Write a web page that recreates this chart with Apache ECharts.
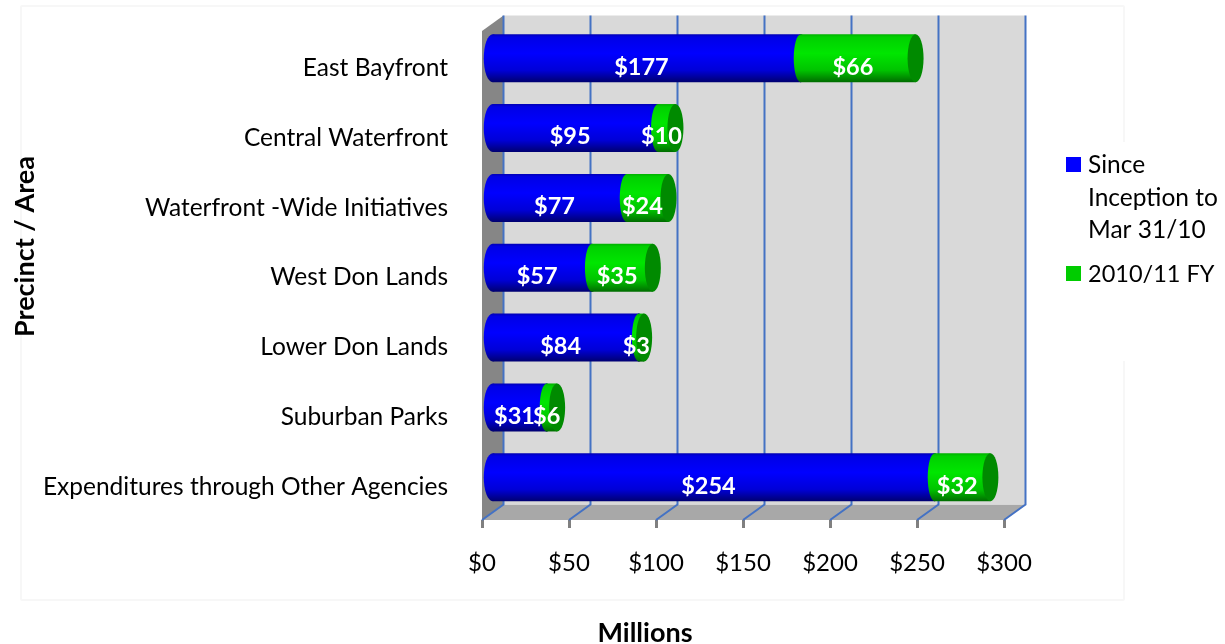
<!DOCTYPE html>
<html>
<head>
<meta charset="utf-8">
<style>html,body{margin:0;padding:0;background:#fff}#main{width:1225px;height:644px}</style>
<script src="https://cdn.jsdelivr.net/npm/echarts@6/dist/echarts.min.js"></script>
</head>
<body>
<div id="main"></div>
<script>
// 数据
var categories = ['East Bayfront', 'Central Waterfront', 'Waterfront -Wide Initiatives', 'West Don Lands', 'Lower Don Lands', 'Suburban Parks', 'Expenditures through Other Agencies'];
var sinceInception = [177, 95, 77, 57, 84, 31, 254];
var fy201011 = [66, 10, 24, 35, 3, 6, 32];
var seriesNames = ['Since\nInception to\nMar 31/10', '2010/11 FY'];
var xTicks = [0, 50, 100, 150, 200, 250, 300];

var fontName = 'Lato';
// 3D 纵深偏移
var depthX = 21.5, depthY = -15.5;
var barHalf = 24, capRx = 8;

var blueGrad = new echarts.graphic.LinearGradient(0, 0, 0, 1, [
    {offset: 0, color: '#0000b4'}, {offset: 0.06, color: '#0000e6'}, {offset: 0.4, color: '#0000ff'},
    {offset: 0.75, color: '#0000d8'}, {offset: 1, color: '#000070'}
]);
var greenGrad = new echarts.graphic.LinearGradient(0, 0, 0, 1, [
    {offset: 0, color: '#00b000'}, {offset: 0.06, color: '#00d000'}, {offset: 0.4, color: '#00e600'},
    {offset: 0.75, color: '#00c400'}, {offset: 1, color: '#006c00'}
]);

// 墙和底面
function renderWalls(params, api){
    var cs = params.coordSys;
    var l = cs.x, r = cs.x + cs.width, t = cs.y, b = cs.y + cs.height;
    var children = [
        {type: 'polygon', shape: {points: [[l, t], [l + depthX, t + depthY], [l + depthX, b + depthY], [l, b]]}, style: {fill: '#868686'}},
        {type: 'polygon', shape: {points: [[l, b], [l + depthX, b + depthY], [r + depthX, b + depthY], [r, b]]}, style: {fill: '#a8a8a8'}},
        {type: 'rect', shape: {x: l + depthX, y: t + depthY, width: cs.width, height: cs.height}, style: {fill: '#d9d9d9'}}
    ];
    xTicks.forEach(function(v){
        var x = api.coord([v, 0])[0];
        children.push({type: 'polyline', shape: {points: [[x, b], [x + depthX, b + depthY], [x + depthX, t + depthY]]},
            style: {fill: null, stroke: '#4472c4', lineWidth: 2}});
    });
    return {type: 'group', children: children};
}

// 圆柱
function cylinder(startVal, endVal, cat, grad, withCap){
    return function(api){
        var p0 = api.coord([startVal, cat]);
        var p1 = api.coord([endVal, cat]);
        var x0 = p0[0] + depthX / 2, x1 = p1[0] + depthX / 2, cy = p0[1] + depthY / 2;
        var parts = [
            {type: 'ellipse', shape: {cx: x0, cy: cy, rx: withCap ? capRx - 1 : capRx + 1, ry: barHalf}, style: {fill: grad}},
            {type: 'rect', shape: {x: x0, y: cy - barHalf, width: x1 - x0, height: barHalf * 2}, style: {fill: grad}},
            {type: 'ellipse', shape: {cx: x1, cy: cy, rx: capRx, ry: barHalf}, style: {fill: withCap ? '#008a00' : grad}}
        ];
        return parts;
    };
}

function renderSeg(getStart, getEnd, grad, withCap){
    return function(params, api){
        var i = params.dataIndex;
        var start = getStart(i), end = getEnd(i);
        var parts = cylinder(start, end, i, grad, withCap)(api);
        var p = api.coord([(start + end) / 2, i]);
        parts.push({type: 'text', z2: 10, x: p[0] + 5.5, y: p[1] + 1, style: {
            text: '$' + (end - start), fill: '#fff', font: 'bold 23.5px ' + fontName, align: 'center', verticalAlign: 'middle'
        }});
        return {type: 'group', children: parts};
    };
}

var myChart = echarts.init(document.getElementById('main'), null, {renderer: 'canvas'});
var option = {
    animation: false,
    backgroundColor: '#fff',
    textStyle: {fontFamily: fontName},
    grid: {left: 482, top: 31, width: 522, height: 489, containLabel: false, outerBoundsMode: 'none'},
    xAxis: {
        type: 'value', min: 0, max: 300, interval: 50,
        name: 'Millions', nameLocation: 'middle', nameGap: 100,
        nameTextStyle: {fontFamily: fontName, fontWeight: 'bold', fontSize: 27, color: '#000', padding: [0, 196, 0, 0]},
        axisLine: {show: false},
        axisTick: {show: true, length: 8, lineStyle: {color: '#808080', width: 3}},
        splitLine: {show: false},
        axisLabel: {color: '#000', fontSize: 24, margin: 31, formatter: function(v){ return '$' + v; }}
    },
    yAxis: {
        type: 'category', inverse: true, data: categories,
        name: 'Precinct / Area', nameLocation: 'middle', nameGap: 443,
        nameTextStyle: {fontFamily: fontName, fontWeight: 'bold', fontSize: 27, color: '#000', padding: [0, 0, 0, 58]},
        axisLine: {show: false}, axisTick: {show: false},
        axisLabel: {
            margin: 34,
            formatter: function(v){ return '{c|' + v + '}'; },
            rich: {c: {color: '#000', fontSize: 24.5, fontFamily: fontName, padding: [4, 0, 0, 0]}}
        }
    },
    series: [
        {type: 'custom', name: 'walls', z: 1, silent: true, data: [0], renderItem: renderWalls,
            encode: {x: 0}},
        {type: 'custom', name: seriesNames[0], z: 2, data: sinceInception, itemStyle: {color: '#0000ff'},
            encode: {x: 0},
            renderItem: renderSeg(function(){ return 0; }, function(i){ return sinceInception[i]; }, blueGrad, false)},
        {type: 'custom', name: seriesNames[1], z: 3, data: fy201011, itemStyle: {color: '#00cc00'},
            encode: {x: 0},
            renderItem: renderSeg(function(i){ return sinceInception[i]; }, function(i){ return sinceInception[i] + fy201011[i]; }, greenGrad, true)}
    ],
    graphic: [
        // 图表外框
        {type: 'rect', z: -10, shape: {x: 21, y: 6, width: 1103, height: 594, r: 1}, style: {fill: '#fff', stroke: '#f7f7f7', lineWidth: 2}},
        // 图例
        {type: 'rect', z: -9, shape: {x: 1060, y: 142, width: 165, height: 219}, style: {fill: '#fff'}},
        {type: 'rect', shape: {x: 1066, y: 157, width: 15, height: 15}, style: {fill: '#0000ff'}},
        {type: 'text', x: 1088, y: 149, style: {text: seriesNames[0], font: '24.5px ' + fontName, lineHeight: 32.5, fill: '#000'}},
        {type: 'rect', shape: {x: 1066, y: 266, width: 15, height: 15}, style: {fill: '#00cc00'}},
        {type: 'text', x: 1088, y: 258, style: {text: seriesNames[1], font: '23.5px ' + fontName, lineHeight: 32.5, fill: '#000'}}
    ]
};
myChart.setOption(option);
</script>
</body>
</html>
